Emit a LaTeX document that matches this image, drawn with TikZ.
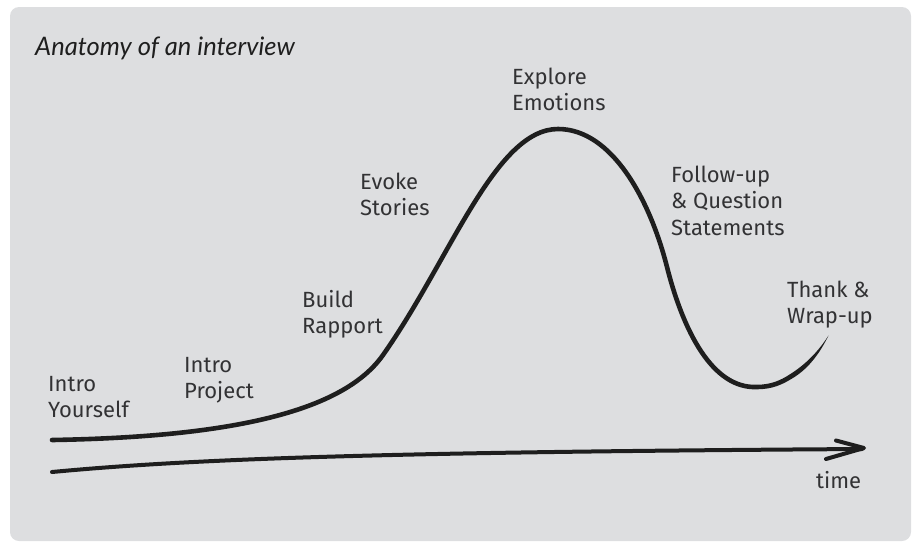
\documentclass[tikz,border=0pt]{standalone}
\usepackage{fontspec}
\setmainfont{Fira Sans}
\newfontfamily\titlefont{Lato}
\definecolor{panel}{RGB}{221,222,224}
\definecolor{ink}{RGB}{30,30,30}
\definecolor{txt}{RGB}{50,50,52}
\begin{document}
\begin{tikzpicture}[x=1pt,y=-1pt,
  lbl/.style={anchor=base west,inner sep=0pt,text=txt,font=\fontsize{22}{26.5}\selectfont},
  stroke/.style={draw=ink,line width=4.6pt,line cap=round,line join=round}]
\useasboundingbox (0,0) rectangle (915,542);
\fill[panel,rounded corners=9pt] (10,7) rectangle (911,541);
\node[anchor=base west,inner sep=0pt,text=ink,font=\titlefont\itshape\fontsize{25.5}{30}\selectfont] (title) at (35,55) {Anatomy of an interview};
% curve
\coordinate (c0) at (52,440);
\coordinate (c1) at (383,355);
\coordinate (c2) at (558,129);
\coordinate (c3) at (667,267);
\coordinate (c4) at (757,387);
\coordinate (c5) at (790,377);
\draw[stroke] (c0) .. controls (230,437) and (343,412) .. (c1)
  .. controls (450,260) and (495,129) .. (c2)
  .. controls (612,129) and (650,200) .. (c3)
  .. controls (683,330) and (712,389) .. (c4)
  .. controls (772,387) and (782,382) .. (c5);
\fill[ink] (788.8,375) .. controls (805,365) and (818,352) .. (828.5,335.5)
  .. controls (819,355) and (807,370) .. (791.2,379) -- cycle;
% time axis
\coordinate (t0) at (52,472);
\coordinate (t1) at (862,449);
\coordinate (ha) at (836,440.5);
\coordinate (hb) at (864,448);
\coordinate (hc) at (826,459);
\draw[stroke,line width=4pt] (t0) .. controls (200,458) and (400,452) .. (t1);
\draw[stroke,line width=4pt] (ha) -- (hb) -- (hc);
% labels
\node[lbl] (l1) at (48,391) {\begin{tabular}[t]{@{}l@{}}Intro\\Yourself\end{tabular}};
\node[lbl] (l2) at (184,372) {\begin{tabular}[t]{@{}l@{}}Intro\\Project\end{tabular}};
\node[lbl] (l3) at (302,307) {\begin{tabular}[t]{@{}l@{}}Build\\Rapport\end{tabular}};
\node[lbl] (l4) at (360,189) {\begin{tabular}[t]{@{}l@{}}Evoke\\Stories\end{tabular}};
\node[lbl] (l5) at (512,84) {\begin{tabular}[t]{@{}l@{}}Explore\\Emotions\end{tabular}};
\node[lbl] (l6) at (671,182) {\begin{tabular}[t]{@{}l@{}}Follow-up\\\& Question\\Statements\end{tabular}};
\node[lbl] (l7) at (787,297) {\begin{tabular}[t]{@{}l@{}}Thank \&\\Wrap-up\end{tabular}};
\node[lbl] (l8) at (816,488) {time};
\end{tikzpicture}
\end{document}
